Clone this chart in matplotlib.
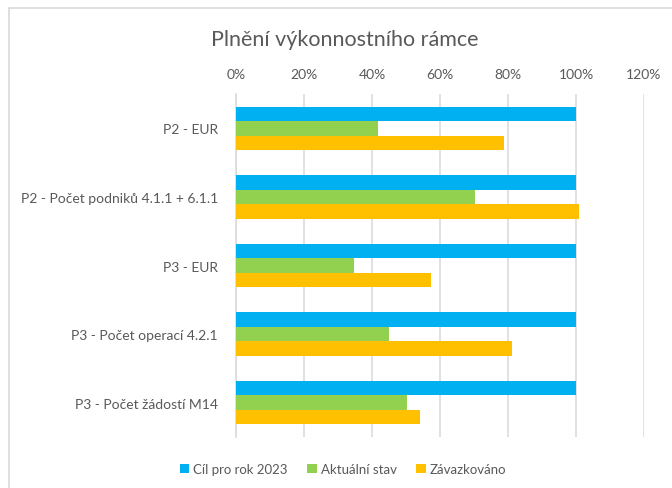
import numpy as np
import matplotlib.pyplot as plt
from matplotlib.patches import Rectangle

# --- data
categories = ['P2 - EUR', 'P2 - Počet podniků 4.1.1 + 6.1.1', 'P3 - EUR',
			  'P3 - Počet operací 4.2.1', 'P3 - Počet žádostí M14']
cil = [1.00, 1.00, 1.00, 1.00, 1.00]
aktualni = [0.419, 0.704, 0.347, 0.450, 0.504]
zavazkovano = [0.787, 1.008, 0.573, 0.812, 0.540]
series_names = ['Cíl pro rok 2023', 'Aktuální stav', 'Závazkováno']
tick_vals = [0, 0.2, 0.4, 0.6, 0.8, 1.0, 1.2]

colors = ['#00B0F0', '#92D050', '#FFC000']
txt = '#595959'
plt.rcParams['font.family'] = ['Lato', 'DejaVu Sans']

fig = plt.figure(figsize=(6.72, 4.89), dpi=100)
ax = fig.add_axes([236/672, 1 - 438/489, 408/672, 343/489])

# border around the chart
fig.patches.append(Rectangle((9/672, -0.1), 1.2, 1 - 9/489 + 0.1, transform=fig.transFigure,
							 fill=False, edgecolor='#d9d9d9', linewidth=1.2))

y = np.arange(len(categories))
h = 0.21
for i, (vals, name) in enumerate(zip([cil, aktualni, zavazkovano], series_names)):
	ax.barh(y + (i - 1)*h, vals, height=h, color=colors[i], label=name, zorder=3)

ax.set_xlim(0, 1.2)
ax.set_ylim(len(categories) - 0.5, -0.5)
ax.set_xticks(tick_vals)
ax.set_xticklabels([f'{int(round(v*100))}%' for v in tick_vals])
ax.xaxis.tick_top()
ax.set_yticks(y)
ax.set_yticklabels(categories)
ax.tick_params(axis='x', length=0, pad=10, labelsize=10, labelcolor=txt)
ax.tick_params(axis='y', length=0, pad=13, labelsize=10, labelcolor=txt)
ax.grid(axis='x', color='#d9d9d9', linewidth=1.1, zorder=0)
for s in ['top', 'right', 'bottom']:
	ax.spines[s].set_visible(False)
ax.spines['left'].set_color('#d9d9d9')
ax.spines['left'].set_linewidth(1.1)

fig.text(345/672, 1 - 40/489, 'Plnění výkonnostního rámce', ha='center', va='center',
		 fontsize=15.5, color=txt)

fig.legend(loc='center', bbox_to_anchor=(343/672, 1 - 470/489), ncol=3, frameon=False,
		   fontsize=9.5, labelcolor=txt, handlelength=0.7, handleheight=0.7,
		   handletextpad=0.3, columnspacing=1.5)

plt.savefig('out.png', dpi=100)
